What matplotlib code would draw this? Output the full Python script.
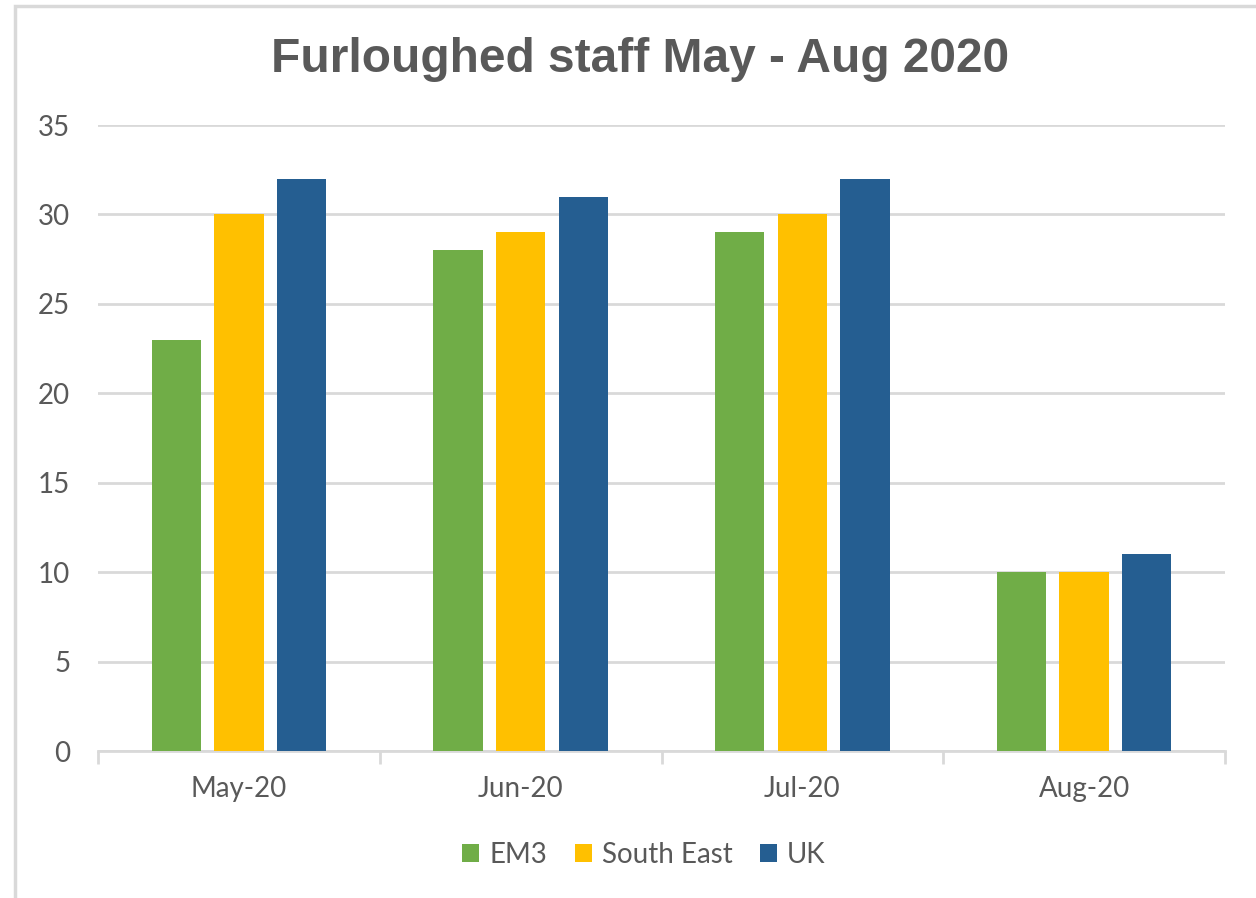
import numpy as np
import matplotlib.pyplot as plt
from matplotlib.patches import Rectangle

months = ['May-20', 'Jun-20', 'Jul-20', 'Aug-20']
series_names = ['EM3', 'South East', 'UK']
em3 = [23, 28, 29, 10]
south_east = [30, 29, 30, 10]
uk = [32, 31, 32, 11]
colors = ['#70AD47', '#FFC000', '#255E91']

text_grey = '#595959'
grid_grey = '#D9D9D9'
font = ['Lato', 'DejaVu Sans']

fig = plt.figure(figsize=(12.56, 8.98), dpi=100)
# chart area border (runs off the right/bottom of the crop)
fig.patches.append(Rectangle((15 / 1256, -0.05), 1.1, (898 - 6) / 898 + 0.05,
                             transform=fig.transFigure, fill=False,
                             edgecolor=grid_grey, linewidth=2.5))

ax = fig.add_axes([98 / 1256, 147 / 898, 1127 / 1256, 626 / 898])
x = np.arange(len(months))
width = 0.175
step = 0.222
for i, (name, vals) in enumerate(zip(series_names, [em3, south_east, uk])):
    ax.bar(x + (i - 1) * step, vals, width, color=colors[i], label=name, zorder=3)

ax.set_xlim(-0.5, len(months) - 0.5)
ax.set_ylim(0, 35)
ax.set_yticks(range(0, 36, 5))
ax.yaxis.grid(True, color=grid_grey, linewidth=2, zorder=0)
ax.tick_params(axis='y', length=0, pad=20, labelsize=20, labelcolor=text_grey)
for lab in ax.get_yticklabels():
    lab.set_family(font)

ax.set_xticks(x)
ax.set_xticklabels(months, family=font, fontsize=20, color=text_grey)
ax.set_xticks(np.arange(-0.5, len(months)), minor=True)
ax.tick_params(axis='x', which='major', length=0, pad=18)
ax.tick_params(axis='x', which='minor', length=9, width=2, color=grid_grey)

for s in ['top', 'right', 'left']:
    ax.spines[s].set_visible(False)
ax.spines['bottom'].set_color(grid_grey)
ax.spines['bottom'].set_linewidth(2)

fig.text(640 / 1256, 1 - 60 / 898, 'Furloughed staff May - Aug 2020',
         ha='center', va='center', fontsize=34.5, fontweight='bold',
         color=text_grey, family=['Liberation Sans', 'DejaVu Sans'])

leg = fig.legend(loc='center', bbox_to_anchor=(644 / 1256, 1 - 855 / 898), ncol=3,
                 frameon=False, prop={'family': font, 'size': 20},
                 handlelength=0.61, handleheight=0.61, handletextpad=0.36,
                 columnspacing=1.0)
for t in leg.get_texts():
    t.set_color(text_grey)

fig.savefig('out.png', dpi=100)
